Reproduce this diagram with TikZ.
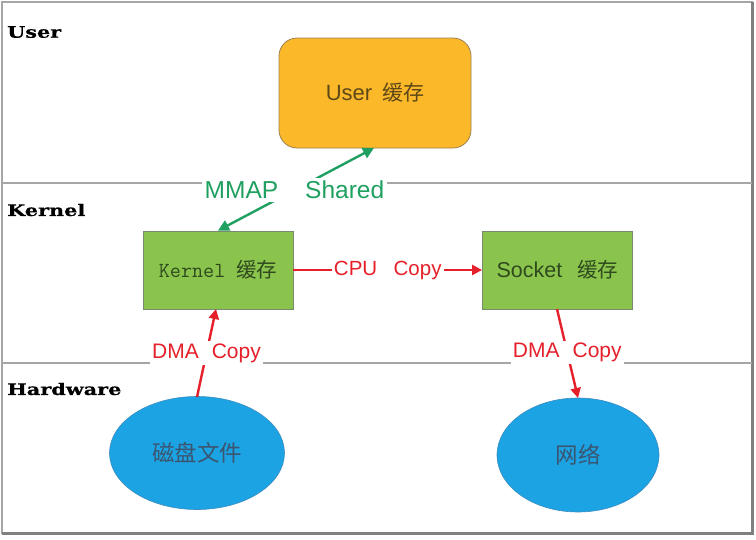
\documentclass[tikz,border=0pt]{standalone}
\usepackage{fontspec}
\setmainfont{Liberation Sans}
\newfontfamily\cjk{Noto Sans CJK SC}
\newfontfamily\slab[FakeStretch=1.3,FakeBold=0.6]{DejaVu Serif}
\usetikzlibrary{shapes.geometric,arrows.meta}
\definecolor{frame}{HTML}{A6A6A6}
\definecolor{userfill}{HTML}{FBB829}
\definecolor{userdraw}{HTML}{9C8050}
\definecolor{usertext}{HTML}{5E4818}
\definecolor{kfill}{HTML}{8AC44C}
\definecolor{kdraw}{HTML}{7A8A70}
\definecolor{ktext}{HTML}{2E4A1E}
\definecolor{efill}{HTML}{1CA3E3}
\definecolor{edraw}{HTML}{3C8CC0}
\definecolor{etext}{HTML}{3A5570}
\definecolor{myred}{HTML}{E6202A}
\definecolor{mygreen}{HTML}{20A060}
\tikzset{
  layer/.style={font=\slab\bfseries\fontsize{16}{18}\selectfont, anchor=west, inner sep=0pt},
  sep/.style={draw=frame, line width=1.2pt},
  userbox/.style={draw=userdraw, fill=userfill, rounded corners=18pt, minimum width=192pt, minimum height=110pt, line width=0.8pt, text=usertext, font=\fontsize{22}{24}\selectfont},
  greenbox/.style={draw=kdraw, fill=kfill, minimum width=150pt, minimum height=78pt, line width=0.8pt, text=ktext, font=\fontsize{21.5}{24}\selectfont},
  blob/.style={ellipse, draw=edraw, fill=efill, line width=0.6pt, text=etext, font=\cjk\fontsize{22.5}{24}\selectfont},
  redarrow/.style={draw=myred, line width=2.4pt, -{Triangle[length=10pt,width=10pt]}},
  greenarrow/.style={draw=mygreen, line width=2.4pt, {Triangle[length=11pt,width=11pt]}-{Triangle[length=11pt,width=11pt]}},
  redlabel/.style={fill=white, text=myred, inner sep=2pt, font=\fontsize{21}{24}\selectfont},
  greenlabel/.style={fill=white, text=mygreen, inner sep=3pt, font=\fontsize{24.5}{26}\selectfont},
}
\begin{document}
\begin{tikzpicture}[x=1pt,y=-1pt]
\useasboundingbox (0,0) rectangle (756,539);
\fill[white] (0,0) rectangle (756,539);
% frame
\draw[draw=frame, line width=2pt] (2,2) rectangle (752,533);
\draw[draw=gray, line width=2.5pt] (2,533.5) -- (752.5,533.5) -- (752.5,2);
% separators
\draw[sep] (2,183) -- (752,183);
\draw[sep] (2,363) -- (752,363);
% layer labels
\node[layer] (luser) at (7,32) {User};
\node[layer] (lkernel) at (7,210) {Kernel};
\node[layer] (lhw) at (7,389) {Hardware};
% nodes
\node[userbox] (user) at (375,93) {User\hspace{0.45em}{\cjk\fontsize{21}{24}\selectfont 缓存}};
\node[greenbox] (kern) at (218,270) {{\ttfamily\addfontfeatures{FakeBold=0.8}\fontsize{21.5}{24}\selectfont Kernel}\hspace{0.5em}{\cjk\fontsize{20.5}{24}\selectfont 缓存}\hspace{4pt}};
\node[greenbox] (sock) at (557.5,270) {Socket\hspace{0.7em}{\cjk\fontsize{20.5}{24}\selectfont 缓存}};
\node[blob, minimum width=175pt, minimum height=113pt] (disk) at (197,453) {磁盘文件\hspace{9pt}};
\node[blob, minimum width=162pt, minimum height=114pt] (net) at (578,455) {网络};
% connectors
\coordinate (ub) at (374,148);
\draw[greenarrow] (kern.north) -- (ub) node[greenlabel, pos=0.49] (mmap) {MMAP\hspace{1.1em}Shared};
\draw[redarrow] (kern.east) -- (sock.west) node[redlabel, midway, font=\fontsize{20.5}{24}\selectfont] (cpu) {CPU\hspace{0.8em}Copy};
\coordinate (dt) at (197,397);
\coordinate (kb) at (216,309);
\draw[redarrow] (dt) -- (kb) node[redlabel, pos=0.5] (dma1) {DMA\hspace{0.62em}Copy};
\coordinate (sb) at (557,309);
\coordinate (nt) at (578,398);
\draw[redarrow] (sb) -- (nt) node[redlabel, pos=0.49] (dma2) {DMA\hspace{0.62em}Copy};
\end{tikzpicture}
\end{document}
